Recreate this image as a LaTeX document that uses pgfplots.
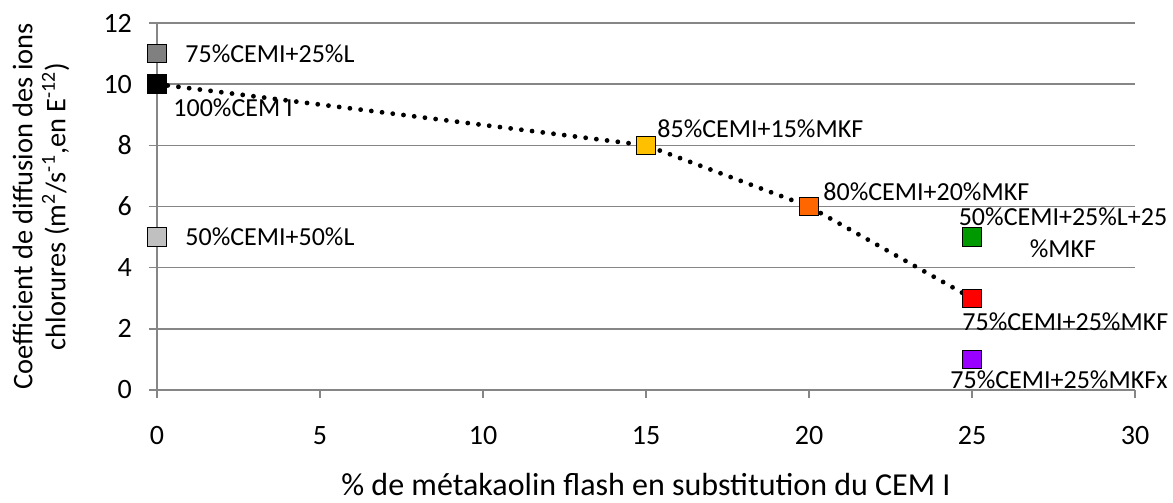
\documentclass[border=0pt]{standalone}
\usepackage{pgfplots}
\pgfplotsset{compat=1.18}
\usepackage{fontspec}
\setmainfont{Carlito}
\definecolor{axgray}{HTML}{868686}
\definecolor{cgrey}{HTML}{808080}
\definecolor{clgrey}{HTML}{C0C0C0}
\definecolor{cyellow}{HTML}{FFC000}
\definecolor{corange}{HTML}{FF6600}
\definecolor{cgreen}{HTML}{009900}
\definecolor{cred}{HTML}{FF0000}
\definecolor{cpurple}{HTML}{9900FF}
\tikzset{dl/.style={font=\fontsize{13}{16}\selectfont, inner sep=0pt}}
\begin{document}
\begin{tikzpicture}
\useasboundingbox (-78.5pt,-56.5pt) rectangle (508pt,195pt);
\begin{axis}[
  at={(0,0)}, anchor=south west,
  scale only axis, width=489pt, height=183.5pt,
  xmin=0, xmax=30, ymin=0, ymax=12,
  xtick={0,5,...,30}, ytick={0,2,...,12},
  axis x line*=bottom, axis y line*=left,
  axis line style={axgray, line width=0.75pt, -},
  tick style={axgray, line width=0.75pt},
  tick align=outside, major tick length=4pt,
  ymajorgrids, grid style={axgray, line width=0.75pt},
  clip=false,
  /pgf/number format/assume math mode=true,
  tick label style={font=\fontsize{14}{16}\selectfont, black},
  xticklabel style={yshift=-10.5pt},
  yticklabel style={xshift=-5pt},
  xlabel={\% de métakaolin flash en substitution du CEM I},
  xlabel style={at={([yshift=-47.5pt]axis description cs:0.5,0)}, anchor=center, font=\fontsize{16}{18}\selectfont},
  ylabel={Coefficient de diffusion des ions\\chlorures (m\textsuperscript{2}/s\textsuperscript{-1},en E\textsuperscript{-12})},
  ylabel style={at={([xshift=-58pt]axis description cs:0,0.5)}, anchor=center, align=center, font=\fontsize{14.2}{16.5}\selectfont},
]
\addplot[black, line width=2.4pt, dash pattern=on 0pt off 5.4pt, line cap=round] coordinates {(0,10) (15,8) (20,6) (25,3)};
\addplot[only marks, mark=square*, mark size=4.6pt, mark options={draw=black, fill=cgrey, line width=0.5pt}] coordinates {(0,11)};
\addplot[only marks, mark=square*, mark size=4.6pt, mark options={draw=black, fill=black, line width=0.5pt}] coordinates {(0,10)};
\addplot[only marks, mark=square*, mark size=4.6pt, mark options={draw=black, fill=clgrey, line width=0.5pt}] coordinates {(0,5)};
\addplot[only marks, mark=square*, mark size=4.6pt, mark options={draw=black, fill=cyellow, line width=0.5pt}] coordinates {(15,8)};
\addplot[only marks, mark=square*, mark size=4.6pt, mark options={draw=black, fill=corange, line width=0.5pt}] coordinates {(20,6)};
\addplot[only marks, mark=square*, mark size=4.6pt, mark options={draw=black, fill=cgreen, line width=0.5pt}] coordinates {(25,5)};
\addplot[only marks, mark=square*, mark size=4.6pt, mark options={draw=black, fill=cred, line width=0.5pt}] coordinates {(25,3)};
\addplot[only marks, mark=square*, mark size=4.6pt, mark options={draw=black, fill=cpurple, line width=0.5pt}] coordinates {(25,1)};
\node[dl, anchor=west, xshift=14pt] at (axis cs:0,11) {75\%CEMI+25\%L};
\node[dl, anchor=west, xshift=8pt, yshift=-12pt] at (axis cs:0,10) {100\%CEM I};
\node[dl, anchor=west, xshift=14pt] at (axis cs:0,5) {50\%CEMI+50\%L};
\node[dl, anchor=west, xshift=5.5pt, yshift=8.5pt] at (axis cs:15,8) {85\%CEMI+15\%MKF};
\node[dl, anchor=west, xshift=7pt, yshift=7.5pt] at (axis cs:20,6) {80\%CEMI+20\%MKF};
\node[dl, anchor=center, align=center, xshift=45.5pt, yshift=2pt] at (axis cs:25,5) {50\%CEMI+25\%L+25\\\%MKF};
\node[dl, anchor=west, xshift=-5pt, yshift=-11.5pt] at (axis cs:25,3) {75\%CEMI+25\%MKF};
\node[dl, anchor=west, xshift=-11pt, yshift=-10pt] at (axis cs:25,1) {75\%CEMI+25\%MKFx};
\end{axis}
\end{tikzpicture}
\end{document}
